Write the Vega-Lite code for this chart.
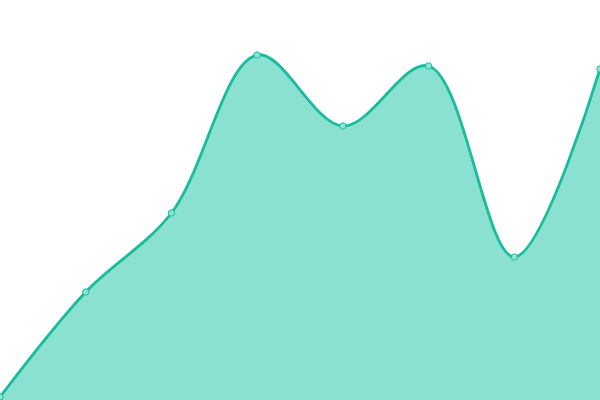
{
  "$schema": "https://vega.github.io/schema/vega-lite/v6.json",
  "autosize": {"type": "fit", "contains": "padding"},
  "width": 600,
  "height": 400,
  "padding": 0,
  "background": "white",
  "config": {"view": {"stroke": null}},
  "data": {"values": [
    {"i": 0, "v": 3},
    {"i": 1, "v": 108},
    {"i": 2, "v": 187},
    {"i": 3, "v": 345},
    {"i": 4, "v": 274},
    {"i": 5, "v": 334},
    {"i": 6, "v": 143},
    {"i": 7, "v": 331}
  ]},
  "encoding": {
    "x": {"field": "i", "type": "quantitative", "scale": {"domain": [0, 7], "nice": false, "zero": false}, "axis": null},
    "y": {"field": "v", "type": "quantitative", "scale": {"domain": [0, 400], "nice": false}, "axis": null}
  },
  "layer": [
    {"mark": {"type": "area", "interpolate": "catmull-rom", "color": "#8AE0D1", "clip": true}},
    {"mark": {"type": "line", "interpolate": "catmull-rom", "color": "#1ABC9C", "strokeWidth": 2.8, "clip": true}},
    {"mark": {"type": "point", "filled": true, "fill": "#8AE6D4", "stroke": "#1ABC9C", "strokeWidth": 1, "size": 40, "opacity": 1, "clip": true}}
  ]
}
